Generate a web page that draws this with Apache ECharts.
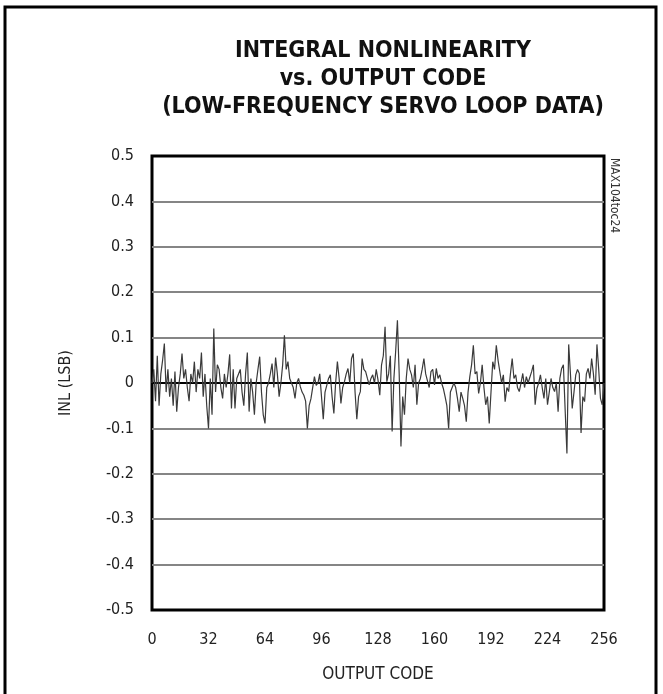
<!DOCTYPE html>
<html>
<head>
<meta charset="utf-8">
<script src="https://cdn.jsdelivr.net/npm/echarts@6/dist/echarts.min.js"></script>
<style>
html,body{margin:0;padding:0;background:#fff;}
#c{width:663px;height:694px;}
</style>
</head>
<body>
<div id="c"></div>
<script>
const titleLines = ['INTEGRAL NONLINEARITY', 'vs. OUTPUT CODE', '(LOW-FREQUENCY SERVO LOOP DATA)'];
const xTicks = [0, 32, 64, 96, 128, 160, 192, 224, 256];
const yTicks = [-0.5, -0.4, -0.3, -0.2, -0.1, 0, 0.1, 0.2, 0.3, 0.4, 0.5];
const xLabel = 'OUTPUT CODE';
const yLabel = 'INL (LSB)';
const sideNote = 'MAX104toc24';
// INL values for output codes 0..256
const inl = [
 0.00, 0.03, -0.04, 0.06, -0.05, 0.02, 0.05, 0.087, -0.02, 0.03,
 -0.03, 0.01, -0.05, 0.025, -0.063, -0.01, 0.02, 0.065, 0.01, 0.03,
 -0.01, -0.04, 0.02, 0.00, 0.047, -0.02, 0.03, 0.01, 0.067, -0.03,
 0.02, -0.05, -0.10, 0.01, -0.07, 0.12, -0.02, 0.04, 0.03, -0.01,
 -0.034, 0.02, -0.01, 0.02, 0.063, -0.056, 0.03, -0.056, 0.01, 0.02,
 0.03, -0.02, -0.05, 0.02, 0.067, -0.063, 0.01, -0.02, -0.07, 0.00,
 0.03, 0.058, -0.02, -0.07, -0.089, -0.01, 0.00, 0.02, 0.043, -0.01,
 0.056, 0.02, -0.03, 0.00, 0.04, 0.105, 0.03, 0.047, 0.01, 0.00,
 -0.01, -0.034, 0.00, 0.01, -0.008, -0.02, -0.027, -0.04, -0.10, -0.05,
 -0.035, -0.01, 0.014, -0.005, 0.00, 0.02, -0.03, -0.08, -0.02, -0.019,
 0.01, 0.018, -0.03, -0.067, 0.00, 0.047, 0.01, -0.045, -0.01, 0.003,
 0.02, 0.032, 0.00, 0.054, 0.065, -0.02, -0.08, -0.03, -0.019, 0.054,
 0.03, 0.025, 0.01, -0.004, 0.01, 0.018, 0.00, 0.03, 0.007, -0.027,
 0.04, 0.06, 0.124, 0.003, 0.02, 0.06, -0.107, 0.01, 0.07, 0.138,
 0.02, -0.14, -0.03, -0.07, 0.01, 0.054, 0.03, 0.018, -0.01, 0.04,
 -0.048, 0.00, 0.01, 0.03, 0.054, 0.02, 0.018, -0.01, 0.025, 0.03,
 -0.004, 0.032, 0.01, 0.018, 0.00, -0.012, -0.03, -0.05, -0.10, -0.02,
 -0.019, 0.00, -0.01, -0.034, -0.063, -0.02, -0.034, -0.05, -0.085, -0.02,
 0.014, 0.04, 0.083, 0.02, 0.025, -0.023, 0.00, 0.04, -0.01, -0.048,
 -0.03, -0.089, -0.02, 0.047, 0.03, 0.083, 0.05, 0.047, 0.00, 0.018,
 -0.041, -0.01, -0.019, 0.02, 0.054, 0.01, 0.018, -0.01, -0.019, 0.00,
 0.021, -0.01, 0.014, 0.00, -0.004, 0.025, 0.04, -0.048, -0.012, 0.00,
 0.018, -0.01, -0.034, 0.01, -0.048, -0.02, 0.01, -0.01, -0.019, 0.00,
 -0.063, 0.01, 0.032, 0.04, -0.06, -0.155, 0.085, 0.02, -0.056, -0.02,
 0.018, 0.03, 0.021, -0.11, -0.03, -0.041, 0.02, 0.032, 0.01, 0.054,
 0.02, -0.026, 0.085, 0.03, -0.034, -0.048, 0.00
];
const codes = inl.map((_, i) => i);

const narrow = '"Liberation Sans Narrow", "DejaVu Sans Condensed", "Liberation Sans", sans-serif';
const chart = echarts.init(document.getElementById('c'), null, {renderer: 'canvas'});
const fmtY = v => (Math.abs(v) < 1e-9 ? '0' : v.toFixed(1));
const gridColors = yTicks.map((v, i) => (i === 0 || i === yTicks.length - 1 || Math.abs(v) < 1e-9) ? '#000' : '#858585');

chart.setOption({
  animation: false,
  backgroundColor: '#fff',
  title: {
    text: titleLines.join('\n'),
    left: 378, top: 32, textAlign: 'center',
    textStyle: {fontFamily: narrow, fontWeight: 'bold', fontSize: 23, lineHeight: 28, color: '#111'}
  },
  grid: {left: 152, right: 59, top: 156, bottom: 84, show: true, borderColor: '#000', borderWidth: 3, backgroundColor: 'transparent'},
  xAxis: {
    type: 'value', min: 0, max: 256, interval: 32,
    name: xLabel, nameLocation: 'middle', nameGap: 56,
    nameTextStyle: {fontFamily: narrow, fontSize: 17, color: '#222'},
    axisLine: {show: false}, axisTick: {show: false}, splitLine: {show: false},
    axisLabel: {fontFamily: narrow, fontSize: 16, color: '#222', margin: 22}
  },
  yAxis: {
    type: 'value', min: -0.5, max: 0.5, interval: 0.1,
    name: yLabel, nameLocation: 'middle', nameGap: 78, nameRotate: 90,
    nameTextStyle: {fontFamily: narrow, fontSize: 16, color: '#222'},
    axisLine: {show: false}, axisTick: {show: false},
    splitLine: {show: true, lineStyle: {color: gridColors, width: 2}},
    axisLabel: {fontFamily: narrow, fontSize: 16, color: '#222', margin: 18, formatter: fmtY}
  },
  graphic: [
    {type: 'rect', shape: {x: 5, y: 7, width: 651, height: 700}, style: {fill: 'none', stroke: '#000', lineWidth: 3}, z: 100},
    {type: 'text', x: 614, y: 158, rotation: -Math.PI / 2,
     style: {text: sideNote, font: '12px ' + narrow, fill: '#333', textAlign: 'left', textVerticalAlign: 'middle'}, z: 100}
  ],
  series: [{
    type: 'line',
    data: codes.map((c, i) => [c, inl[i]]),
    showSymbol: false,
    lineStyle: {color: '#3a3a3a', width: 1.2},
    z: 3
  }]
});
</script>
</body>
</html>
